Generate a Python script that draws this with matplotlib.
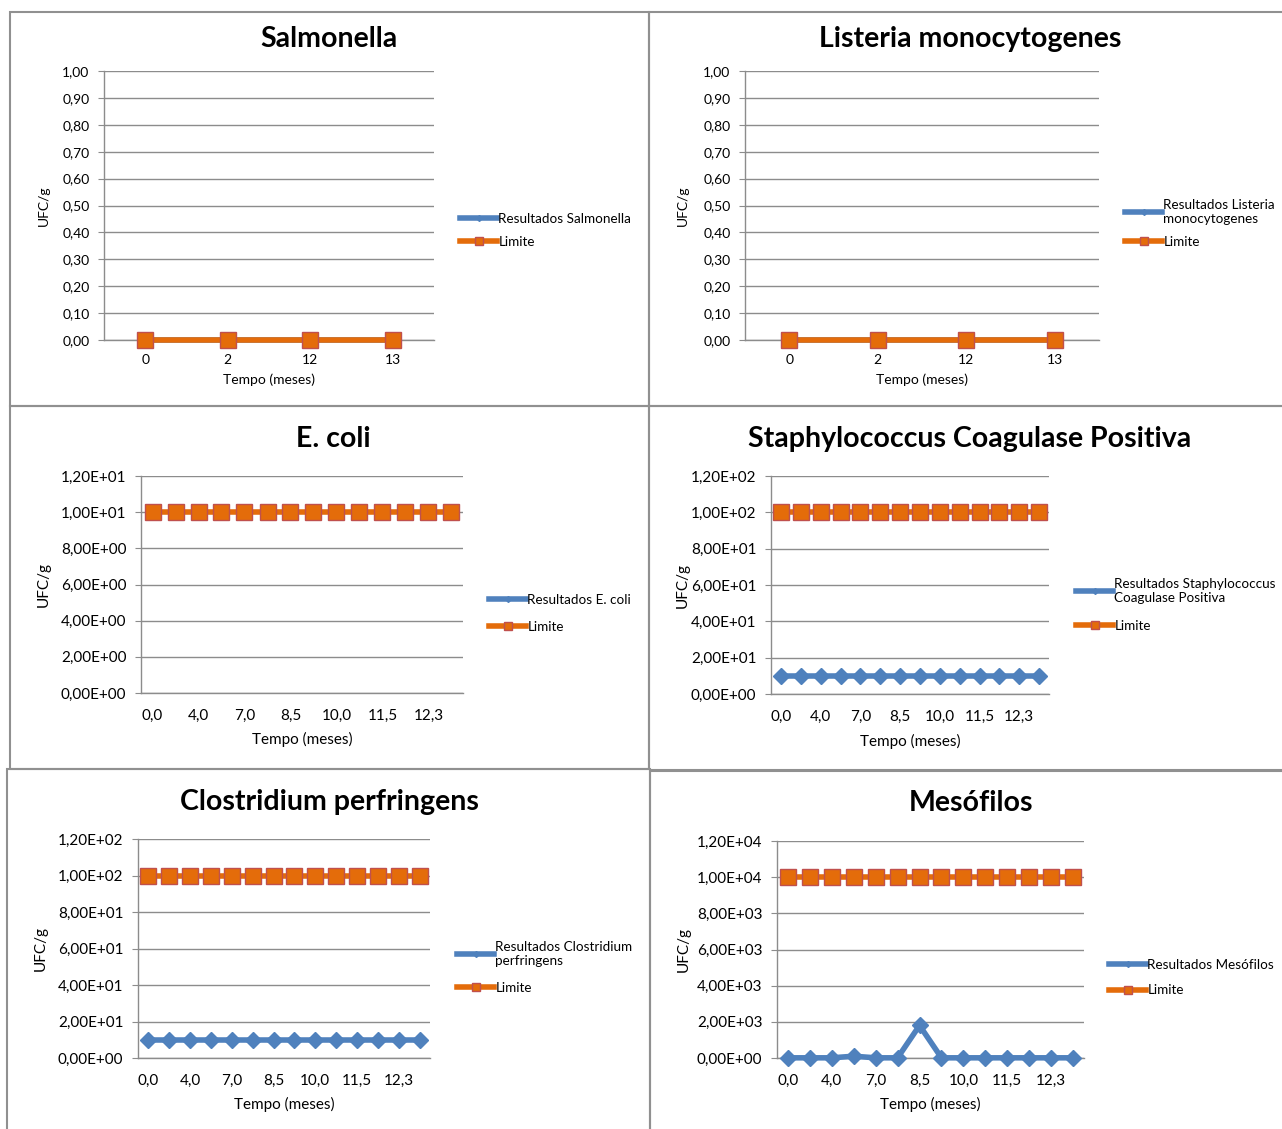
import matplotlib.pyplot as plt
from matplotlib.lines import Line2D
from matplotlib.patches import Rectangle
from matplotlib.ticker import FixedLocator, FuncFormatter

W, H = 1282, 1129
BLUE = "#4F81BD"
ORANGE = "#E46C0A"
EDGE = "#C0504D"
GRID = "#8C8C8C"

plt.rcParams["font.family"] = ["Lato", "DejaVu Sans"]

# time points (months)
tempo_curto = ["0", "2", "12", "13"]
tempo_longo = ["0,0", "2,0", "4,0", "5,5", "7,0", "8,0", "8,5",
               "9,0", "10,0", "11,0", "11,5", "12,0", "12,3", "13,0"]

salmonella_res = [0, 0, 0, 0]
salmonella_lim = [0, 0, 0, 0]
listeria_res = [0, 0, 0, 0]
listeria_lim = [0, 0, 0, 0]
ecoli_lim = [10] * 14
staph_res = [10] * 14
staph_lim = [100] * 14
clostridium_res = [10] * 14
clostridium_lim = [100] * 14
mesofilos_res = [10, 10, 10, 100, 10, 10, 1800, 10, 10, 10, 10, 10, 10, 10]
mesofilos_lim = [10000] * 14


def fx(x):
    return x / W


def fy(y):
    return 1 - y / H


def fmt_dec(v, _):
    return f"{v:.2f}".replace(".", ",")


def fmt_sci(v, _):
    return f"{v:.2E}".replace(".", ",")


def make_axes(fig, box, cats, res, lim, ymax, ystep, formatter, tick_fs, xpad):
    x0, y0, x1, y1 = box
    ax = fig.add_axes([fx(x0), fy(y1), fx(x1 - x0), (y1 - y0) / H])
    xs = list(range(len(cats)))
    ax.set_xlim(-0.5, len(cats) - 0.5)
    ax.set_ylim(0, ymax)
    n = int(round(ymax / ystep))
    ax.yaxis.set_major_locator(FixedLocator([i * ystep for i in range(n + 1)]))
    ax.yaxis.set_major_formatter(FuncFormatter(formatter))
    step = 1 if len(cats) <= 4 else 2
    ax.set_xticks(xs[::step])
    ax.set_xticklabels(cats[::step])
    ax.grid(axis="y", color=GRID, lw=1)
    ax.set_axisbelow(True)
    for s in ("top", "right"):
        ax.spines[s].set_visible(False)
    for s in ("left", "bottom"):
        ax.spines[s].set_color(GRID)
        ax.spines[s].set_linewidth(1)
    ax.tick_params(axis="y", length=4, color=GRID, labelsize=tick_fs, pad=6.5)
    ax.tick_params(axis="x", length=0, labelsize=tick_fs, pad=xpad)
    if res is not None:
        ax.plot(xs, res, color=BLUE, lw=4, marker="D", ms=8,
                mfc=BLUE, mec=BLUE, clip_on=False, zorder=3)
    ax.plot(xs, lim, color=ORANGE, lw=4, marker="s", ms=11.5,
            mfc=ORANGE, mec=EDGE, mew=1, clip_on=False, zorder=4)
    return ax


def add_legend(fig, x, y, label, spacing):
    handles = [
        Line2D([], [], color=BLUE, lw=4, marker="D", ms=3, mfc=BLUE, mec=BLUE),
        Line2D([], [], color=ORANGE, lw=4, marker="s", ms=6, mfc=ORANGE, mec=EDGE),
    ]
    fig.legend(handles, [label, "Limite"], loc="upper left",
               bbox_to_anchor=(fx(x), fy(y)), frameon=False, fontsize=9.7,
               handlelength=2.75, handletextpad=0.1, labelspacing=spacing,
               borderpad=0, borderaxespad=0)


fig = plt.figure(figsize=(W / 100, H / 100), dpi=100)

# panel frames
for x0, y0, x1, y1 in [(10, 12, 649, 406), (649, 12, 1290, 406),
                       (10, 406, 649, 769), (649, 406, 1290, 770),
                       (7, 769, 650, 1140), (650, 771, 1290, 1140)]:
    fig.add_artist(Rectangle((fx(x0), fy(y1)), fx(x1 - x0), (y1 - y0) / H,
                             transform=fig.transFigure, fill=False,
                             ec="#909090", lw=1.5))

panels = [
    dict(title="Salmonella", box=(104, 71, 434, 340), cats=tempo_curto,
         res=salmonella_res, lim=salmonella_lim, ymax=1.0, ystep=0.1,
         fmt=fmt_dec, fs=10, xpad=10, title_xy=(329, 39), ylab_x=44,
         xlab_y=380, leg=(460, 213), leg_sp=0.8,
         leg_label="Resultados Salmonella"),
    dict(title="Listeria monocytogenes", box=(745, 71, 1099, 340), cats=tempo_curto,
         res=listeria_res, lim=listeria_lim, ymax=1.0, ystep=0.1,
         fmt=fmt_dec, fs=10, xpad=10, title_xy=(970, 39), ylab_x=683,
         xlab_y=380, leg=(1125, 199), leg_sp=0.8,
         leg_label="Resultados Listeria\nmonocytogenes"),
    dict(title="E. coli", box=(141, 476, 463, 693), cats=tempo_longo,
         res=None, lim=ecoli_lim, ymax=12, ystep=2,
         fmt=fmt_sci, fs=11, xpad=11.5, title_xy=(333, 439), ylab_x=44,
         xlab_y=739, leg=(489, 594), leg_sp=1.1,
         leg_label="Resultados E. coli"),
    dict(title="Staphylococcus Coagulase Positiva", box=(771, 476, 1049, 694),
         cats=tempo_longo, res=staph_res, lim=staph_lim, ymax=120, ystep=20,
         fmt=fmt_sci, fs=11, xpad=11.5, title_xy=(970, 439), ylab_x=683,
         xlab_y=741, leg=(1076, 578), leg_sp=1.2,
         leg_label="Resultados Staphylococcus\nCoagulase Positiva"),
    dict(title="Clostridium perfringens", box=(138, 839, 430, 1058),
         cats=tempo_longo, res=clostridium_res, lim=clostridium_lim,
         ymax=120, ystep=20, fmt=fmt_sci, fs=11, xpad=11.5,
         title_xy=(329, 802), ylab_x=41, xlab_y=1104, leg=(457, 941),
         leg_sp=1.1, leg_label="Resultados Clostridium\nperfringens"),
    dict(title="Mesófilos", box=(777, 841, 1084, 1058), cats=tempo_longo,
         res=mesofilos_res, lim=mesofilos_lim, ymax=12000, ystep=2000,
         fmt=fmt_sci, fs=11, xpad=11.5, title_xy=(971, 803), ylab_x=684,
         xlab_y=1104, leg=(1109, 959), leg_sp=1.0,
         leg_label="Resultados Mesófilos"),
]

for p in panels:
    make_axes(fig, p["box"], p["cats"], p["res"], p["lim"], p["ymax"],
              p["ystep"], p["fmt"], p["fs"], p["xpad"])
    x0, y0, x1, y1 = p["box"]
    tx, ty = p["title_xy"]
    fig.text(fx(tx), fy(ty), p["title"], ha="center", va="center",
             fontsize=20.5, fontweight="bold")
    fig.text(fx(p["ylab_x"]), fy((y0 + y1) / 2), "UFC/g", rotation=90,
             ha="center", va="center", fontsize=p["fs"])
    fig.text(fx((x0 + x1) / 2), fy(p["xlab_y"]), "Tempo (meses)",
             ha="center", va="center", fontsize=p["fs"])
    add_legend(fig, p["leg"][0], p["leg"][1], p["leg_label"], p["leg_sp"])

fig.savefig("out.png", dpi=100)
